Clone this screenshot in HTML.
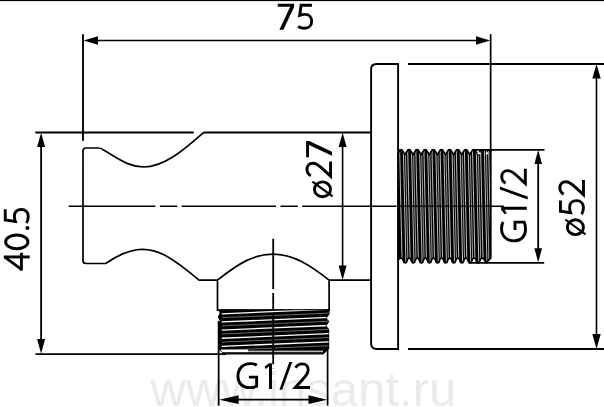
<!DOCTYPE html>
<html><head><meta charset="utf-8">
<style>
html,body{margin:0;padding:0;background:#fff;}
body{width:604px;height:407px;overflow:hidden;}
svg{display:block;}
text{font-family:"Liberation Sans",sans-serif;}
</style></head>
<body>
<svg width="604" height="407" viewBox="0 0 604 407">
<defs></defs>
<rect x="0" y="0" width="604" height="407" fill="#fff"/>

<!-- watermark -->
<text transform="translate(150.5,406) scale(1.024,1)" font-size="48" fill="#ebebeb">www.insant.ru</text>

<g stroke="#000" stroke-width="1.8" fill="none" stroke-linecap="butt">
  <rect x="0" y="0" width="604" height="1.1" fill="#000" stroke="none"/>
  <line x1="90" y1="40.5" x2="484" y2="40.5" stroke-width="1.6"/>
  <line x1="83" y1="34.2" x2="83" y2="140.7" stroke-width="1.9"/>
  <line x1="490.65" y1="34.1" x2="490.65" y2="152" stroke-width="1.7"/>
  <path d="M398.1,64 H376.6 Q371.1,64 371.1,69.5 V343.5 Q371.1,349 376.6,349 H398.1 Z" stroke-width="1.9"/>
  <line x1="408" y1="64" x2="604" y2="64" stroke-width="1.9"/>
  <line x1="408" y1="349" x2="604" y2="349" stroke-width="1.9"/>
  <line x1="596.5" y1="70" x2="596.5" y2="343" stroke-width="1.6"/>
  <line x1="35.3" y1="132.5" x2="193.8" y2="132.5" stroke-width="1.8"/>
  <line x1="203.6" y1="132.5" x2="371" y2="132.5" stroke-width="1.8"/>
  <path d="M203.6,132.5 C184,149.6 164.5,167 143.8,167 C130,167 121,160.5 104,150.3 Q101.5,148 98.5,148 H86 Q83,148 83,151 V260.5 Q83,263.5 86,263.5 H105.6 C118,255 130,249.3 142.5,249.3 C157,249.3 170,255.5 199.1,280.2 H217.5" stroke-width="1.7"/>
  <line x1="68.7" y1="206.3" x2="503.8" y2="206.3" stroke-width="1.6" stroke-dasharray="94.3 4.5 17.3 4.5" stroke-dashoffset="7.6"/>
  <line x1="342.6" y1="140" x2="342.6" y2="272" stroke-width="1.6"/>
  <line x1="41.1" y1="140" x2="41.1" y2="346" stroke-width="1.8"/>
  <line x1="35.4" y1="354.1" x2="226" y2="354.1" stroke-width="1.7"/>
  <path d="M217.5,310.2 V280.2 C240,262 255,254.2 273,254.2 C293,254.2 310,265 329.1,280.2 V310.2 Z" stroke-width="1.7"/>
  <line x1="329.1" y1="280.2" x2="371" y2="280.2" stroke-width="1.7"/>
  <line x1="218.65" y1="321" x2="218.65" y2="405.6" stroke-width="1.8"/>
  <line x1="327.6" y1="345" x2="327.6" y2="405.6" stroke-width="1.7"/>
  <line x1="225" y1="399.65" x2="322" y2="399.65" stroke-width="1.6"/>
  <line x1="473" y1="149.9" x2="544.5" y2="149.9" stroke-width="1.9"/>
  <line x1="469" y1="262.9" x2="544.2" y2="262.9" stroke-width="1.9"/>
  <line x1="538.2" y1="156" x2="538.2" y2="256" stroke-width="1.8"/>
</g>
<g fill="#000">
  <polygon points="83.5,40.5 98,36.2 98,44.7"/>
  <polygon points="490.2,40.5 476,36.2 476,44.7"/>
  <polygon points="596.5,64 592.3,78.6 600.7,78.6"/>
  <polygon points="596.5,349 592.3,334 600.7,334"/>
  <polygon points="342.6,132.8 338.6,147 346.6,147"/>
  <polygon points="342.6,280 338.6,265.4 346.6,265.4"/>
  <polygon points="41.1,132.8 37.1,147 45.1,147"/>
  <polygon points="41.1,353.8 37.1,339 45.1,339"/>
  <polygon points="538.2,150 534.4,164 542,164"/>
  <polygon points="538.2,262.5 534.4,248.2 542,248.2"/>
  <polygon points="219.2,399.65 238.6,395.3 238.6,403.9"/>
  <polygon points="327.1,399.65 308.5,395.3 308.5,403.9"/>
</g>
<clipPath id="rtc"><path d="M398.3,153.6 L399.6,150.05 Q400.9,149.35 402.2,150.05 L404.95,154.6 L407.7,150.05 Q409,149.35 410.3,150.05 L413.05,154.6 L415.8,150.05 Q417.1,149.35 418.4,150.05 L421.15,154.6 L423.9,150.05 Q425.2,149.35 426.5,150.05 L429.25,154.6 L432,150.05 Q433.3,149.35 434.6,150.05 L437.35,154.6 L440.1,150.05 Q441.4,149.35 442.7,150.05 L445.45,154.6 L448.2,150.05 Q449.5,149.35 450.8,150.05 L453.55,154.6 L456.3,150.05 Q457.6,149.35 458.9,150.05 L461.65,154.6 L464.4,150.05 Q465.7,149.35 467,150.05 L469.75,154.6 L472.5,150.05 Q473.8,149.35 475.1,150.05 L477.85,154.6 L480.6,150.05 L490.8,149.8 L490.8,257.9 L486.3,262.6 L483.4,258.7 Q482.1,257.6 480.8,258.7 L479.15,262.6 Q478.05,263.3 476.95,262.6 L475.3,258.7 Q474,257.6 472.7,258.7 L471.05,262.6 Q469.95,263.3 468.85,262.6 L467.2,258.7 Q465.9,257.6 464.6,258.7 L462.95,262.6 Q461.85,263.3 460.75,262.6 L459.1,258.7 Q457.8,257.6 456.5,258.7 L454.85,262.6 Q453.75,263.3 452.65,262.6 L451,258.7 Q449.7,257.6 448.4,258.7 L446.75,262.6 Q445.65,263.3 444.55,262.6 L442.9,258.7 Q441.6,257.6 440.3,258.7 L438.65,262.6 Q437.55,263.3 436.45,262.6 L434.8,258.7 Q433.5,257.6 432.2,258.7 L430.55,262.6 Q429.45,263.3 428.35,262.6 L426.7,258.7 Q425.4,257.6 424.1,258.7 L422.45,262.6 Q421.35,263.3 420.25,262.6 L418.6,258.7 Q417.3,257.6 416,258.7 L414.35,262.6 Q413.25,263.3 412.15,262.6 L410.5,258.7 Q409.2,257.6 407.9,258.7 L406.25,262.6 Q405.15,263.3 404.05,262.6 L402.4,258.7 Q401.1,257.6 399.8,258.7 L398.3,259.1 Z"/></clipPath>
<path d="M398.3,153.6 L399.6,150.05 Q400.9,149.35 402.2,150.05 L404.95,154.6 L407.7,150.05 Q409,149.35 410.3,150.05 L413.05,154.6 L415.8,150.05 Q417.1,149.35 418.4,150.05 L421.15,154.6 L423.9,150.05 Q425.2,149.35 426.5,150.05 L429.25,154.6 L432,150.05 Q433.3,149.35 434.6,150.05 L437.35,154.6 L440.1,150.05 Q441.4,149.35 442.7,150.05 L445.45,154.6 L448.2,150.05 Q449.5,149.35 450.8,150.05 L453.55,154.6 L456.3,150.05 Q457.6,149.35 458.9,150.05 L461.65,154.6 L464.4,150.05 Q465.7,149.35 467,150.05 L469.75,154.6 L472.5,150.05 Q473.8,149.35 475.1,150.05 L477.85,154.6 L480.6,150.05 L490.8,149.8 L490.8,257.9 L486.3,262.6 L483.4,258.7 Q482.1,257.6 480.8,258.7 L479.15,262.6 Q478.05,263.3 476.95,262.6 L475.3,258.7 Q474,257.6 472.7,258.7 L471.05,262.6 Q469.95,263.3 468.85,262.6 L467.2,258.7 Q465.9,257.6 464.6,258.7 L462.95,262.6 Q461.85,263.3 460.75,262.6 L459.1,258.7 Q457.8,257.6 456.5,258.7 L454.85,262.6 Q453.75,263.3 452.65,262.6 L451,258.7 Q449.7,257.6 448.4,258.7 L446.75,262.6 Q445.65,263.3 444.55,262.6 L442.9,258.7 Q441.6,257.6 440.3,258.7 L438.65,262.6 Q437.55,263.3 436.45,262.6 L434.8,258.7 Q433.5,257.6 432.2,258.7 L430.55,262.6 Q429.45,263.3 428.35,262.6 L426.7,258.7 Q425.4,257.6 424.1,258.7 L422.45,262.6 Q421.35,263.3 420.25,262.6 L418.6,258.7 Q417.3,257.6 416,258.7 L414.35,262.6 Q413.25,263.3 412.15,262.6 L410.5,258.7 Q409.2,257.6 407.9,258.7 L406.25,262.6 Q405.15,263.3 404.05,262.6 L402.4,258.7 Q401.1,257.6 399.8,258.7 L398.3,259.1 Z" fill="#000"/>
<g clip-path="url(#rtc)">
<line x1="399.6" y1="150" x2="402.1" y2="262" stroke="#ffffff" stroke-width="0.75"/>
<line x1="403.4" y1="150" x2="405.9" y2="262" stroke="#ffffff" stroke-width="0.75"/>
<line x1="405.4" y1="150" x2="407.9" y2="262" stroke="#e0e0e0" stroke-width="0.7"/>
<line x1="407.7" y1="150" x2="410.2" y2="262" stroke="#ffffff" stroke-width="0.75"/>
<line x1="411.5" y1="150" x2="414" y2="262" stroke="#ffffff" stroke-width="0.75"/>
<line x1="413.5" y1="150" x2="416" y2="262" stroke="#e0e0e0" stroke-width="0.7"/>
<line x1="415.8" y1="150" x2="418.3" y2="262" stroke="#ffffff" stroke-width="0.75"/>
<line x1="419.6" y1="150" x2="422.1" y2="262" stroke="#ffffff" stroke-width="0.75"/>
<line x1="421.6" y1="150" x2="424.1" y2="262" stroke="#e0e0e0" stroke-width="0.7"/>
<line x1="423.9" y1="150" x2="426.4" y2="262" stroke="#ffffff" stroke-width="0.75"/>
<line x1="427.7" y1="150" x2="430.2" y2="262" stroke="#ffffff" stroke-width="0.75"/>
<line x1="429.7" y1="150" x2="432.2" y2="262" stroke="#e0e0e0" stroke-width="0.7"/>
<line x1="432" y1="150" x2="434.5" y2="262" stroke="#ffffff" stroke-width="0.75"/>
<line x1="435.8" y1="150" x2="438.3" y2="262" stroke="#ffffff" stroke-width="0.75"/>
<line x1="437.8" y1="150" x2="440.3" y2="262" stroke="#e0e0e0" stroke-width="0.7"/>
<line x1="440.1" y1="150" x2="442.6" y2="262" stroke="#ffffff" stroke-width="0.75"/>
<line x1="443.9" y1="150" x2="446.4" y2="262" stroke="#ffffff" stroke-width="0.75"/>
<line x1="445.9" y1="150" x2="448.4" y2="262" stroke="#e0e0e0" stroke-width="0.7"/>
<line x1="448.2" y1="150" x2="450.7" y2="262" stroke="#ffffff" stroke-width="0.75"/>
<line x1="452" y1="150" x2="454.5" y2="262" stroke="#ffffff" stroke-width="0.75"/>
<line x1="454" y1="150" x2="456.5" y2="262" stroke="#e0e0e0" stroke-width="0.7"/>
<line x1="456.3" y1="150" x2="458.8" y2="262" stroke="#ffffff" stroke-width="0.75"/>
<line x1="460.1" y1="150" x2="462.6" y2="262" stroke="#ffffff" stroke-width="0.75"/>
<line x1="462.1" y1="150" x2="464.6" y2="262" stroke="#e0e0e0" stroke-width="0.7"/>
<line x1="464.4" y1="150" x2="466.9" y2="262" stroke="#ffffff" stroke-width="0.75"/>
<line x1="468.2" y1="150" x2="470.7" y2="262" stroke="#ffffff" stroke-width="0.75"/>
<line x1="470.2" y1="150" x2="472.7" y2="262" stroke="#e0e0e0" stroke-width="0.7"/>
<line x1="472.5" y1="150" x2="475" y2="262" stroke="#ffffff" stroke-width="0.75"/>
<line x1="476.3" y1="150" x2="478.8" y2="262" stroke="#ffffff" stroke-width="0.75"/>
<line x1="478.3" y1="150" x2="480.8" y2="262" stroke="#e0e0e0" stroke-width="0.7"/>
<line x1="480.6" y1="150" x2="483.1" y2="262" stroke="#ffffff" stroke-width="0.75"/>
<line x1="484.4" y1="150" x2="486.9" y2="262" stroke="#ffffff" stroke-width="0.75"/>
<line x1="486.4" y1="150" x2="488.9" y2="262" stroke="#e0e0e0" stroke-width="0.7"/>
<line x1="488.7" y1="150" x2="491.2" y2="262" stroke="#ffffff" stroke-width="0.75"/>
<line x1="492.5" y1="150" x2="495" y2="262" stroke="#ffffff" stroke-width="0.75"/>
<line x1="494.5" y1="150" x2="497" y2="262" stroke="#e0e0e0" stroke-width="0.7"/>
<line x1="496.8" y1="150" x2="499.3" y2="262" stroke="#ffffff" stroke-width="0.75"/>
<line x1="500.6" y1="150" x2="503.1" y2="262" stroke="#ffffff" stroke-width="0.75"/>
<line x1="502.6" y1="150" x2="505.1" y2="262" stroke="#e0e0e0" stroke-width="0.7"/>
</g>
<path d="M398.3,153.6 L399.6,150.05 Q400.9,149.35 402.2,150.05 L404.95,154.6 L407.7,150.05 Q409,149.35 410.3,150.05 L413.05,154.6 L415.8,150.05 Q417.1,149.35 418.4,150.05 L421.15,154.6 L423.9,150.05 Q425.2,149.35 426.5,150.05 L429.25,154.6 L432,150.05 Q433.3,149.35 434.6,150.05 L437.35,154.6 L440.1,150.05 Q441.4,149.35 442.7,150.05 L445.45,154.6 L448.2,150.05 Q449.5,149.35 450.8,150.05 L453.55,154.6 L456.3,150.05 Q457.6,149.35 458.9,150.05 L461.65,154.6 L464.4,150.05 Q465.7,149.35 467,150.05 L469.75,154.6 L472.5,150.05 Q473.8,149.35 475.1,150.05 L477.85,154.6 L480.6,150.05 L490.8,149.8 L490.8,257.9 L486.3,262.6 L483.4,258.7 Q482.1,257.6 480.8,258.7 L479.15,262.6 Q478.05,263.3 476.95,262.6 L475.3,258.7 Q474,257.6 472.7,258.7 L471.05,262.6 Q469.95,263.3 468.85,262.6 L467.2,258.7 Q465.9,257.6 464.6,258.7 L462.95,262.6 Q461.85,263.3 460.75,262.6 L459.1,258.7 Q457.8,257.6 456.5,258.7 L454.85,262.6 Q453.75,263.3 452.65,262.6 L451,258.7 Q449.7,257.6 448.4,258.7 L446.75,262.6 Q445.65,263.3 444.55,262.6 L442.9,258.7 Q441.6,257.6 440.3,258.7 L438.65,262.6 Q437.55,263.3 436.45,262.6 L434.8,258.7 Q433.5,257.6 432.2,258.7 L430.55,262.6 Q429.45,263.3 428.35,262.6 L426.7,258.7 Q425.4,257.6 424.1,258.7 L422.45,262.6 Q421.35,263.3 420.25,262.6 L418.6,258.7 Q417.3,257.6 416,258.7 L414.35,262.6 Q413.25,263.3 412.15,262.6 L410.5,258.7 Q409.2,257.6 407.9,258.7 L406.25,262.6 Q405.15,263.3 404.05,262.6 L402.4,258.7 Q401.1,257.6 399.8,258.7 L398.3,259.1 Z" fill="none" stroke="#000" stroke-width="1.7"/>
<polygon points="477,154.2 481,154.2 479,151.4" fill="#fff"/>
<polygon points="485,154.2 489,154.2 487,151.4" fill="#fff"/>
<line x1="398.3" y1="206.1" x2="490.8" y2="206.1" stroke="#000" stroke-width="1.4"/>
<clipPath id="btc"><path d="M219.3,310.2 H328.9 V314 L326,318 L328.6,321.5 L325.6,325.8 L328.6,329.5 V348.5 L323,353.8 H224 L219.3,349 V322.5 L220.4,320.2 L218.4,317 L220.2,313.6 Z"/></clipPath>
<path d="M219.3,310.2 H328.9 V314 L326,318 L328.6,321.5 L325.6,325.8 L328.6,329.5 V348.5 L323,353.8 H224 L219.3,349 V322.5 L220.4,320.2 L218.4,317 L220.2,313.6 Z" fill="#000" stroke="#000" stroke-width="1.2"/>
<g clip-path="url(#btc)">
<line x1="221.8" y1="313.8" x2="329" y2="309.2" stroke="#fff" stroke-width="1.3"/>
<line x1="221.8" y1="317.7" x2="329" y2="313.1" stroke="#808080" stroke-width="0.8"/>
<line x1="221.8" y1="321.95" x2="329" y2="317.35" stroke="#fff" stroke-width="1.3"/>
<line x1="221.8" y1="325.85" x2="329" y2="321.25" stroke="#808080" stroke-width="0.8"/>
<line x1="221.8" y1="330.1" x2="329" y2="325.5" stroke="#fff" stroke-width="1.3"/>
<line x1="221.8" y1="334" x2="329" y2="329.4" stroke="#808080" stroke-width="0.8"/>
<line x1="221.8" y1="338.25" x2="329" y2="333.65" stroke="#fff" stroke-width="1.3"/>
<line x1="221.8" y1="342.15" x2="329" y2="337.55" stroke="#808080" stroke-width="0.8"/>
<line x1="221.8" y1="346.4" x2="329" y2="341.8" stroke="#fff" stroke-width="1.3"/>
<line x1="221.8" y1="350.3" x2="329" y2="345.7" stroke="#808080" stroke-width="0.8"/>
<rect x="220.5" y="349.6" width="27.5" height="2.6" fill="#fff"/>
<rect x="248" y="350.6" width="75" height="1.6" fill="#bbb"/>
</g>
<line x1="273.2" y1="238.7" x2="273.2" y2="368.6" stroke="#000" stroke-width="1.8" stroke-dasharray="50.3 4 17 4"/>
<g fill="#000">
 <g transform="translate(277.8,29.7)"><g transform="translate(0,0)"><polygon points="0,-25.9 16.3,-25.9 16.3,-22.8 5.6,0 1.6,0 12.4,-23 0,-23"/></g><g transform="translate(19.4,0)"><path d="M14.7,-24.45 H3.9 L2.5,-14.4 C4.3,-15.1 6.1,-15.3 7.8,-15.3 C12.3,-15.3 14.45,-12.3 14.45,-8.5 C14.45,-4.2 11.6,-1.45 7.5,-1.45 C5,-1.45 2.7,-2.1 0.9,-3.2" fill="none" stroke="#000" stroke-width="2.9"/></g></g>
 <g transform="translate(332,198.2) rotate(-90)"><g transform="translate(0,0)"><ellipse cx="8.9" cy="-9.5" rx="7.4" ry="8.05" fill="none" stroke="#000" stroke-width="2.9"/><line x1="1.8" y1="0.6" x2="16.6" y2="-19.6" stroke="#000" stroke-width="2.1"/></g><g transform="translate(20.5,0)"><path d="M1.9,-21.2 C3.4,-23.8 5.6,-25.05 8.4,-25.05 C12.3,-25.05 14.45,-22.4 14.45,-19.2 C14.45,-15.8 12.5,-13.2 9.3,-9.9 L1.6,-1.45 H16.3" fill="none" stroke="#000" stroke-width="2.9"/></g><g transform="translate(40.9,0)"><polygon points="0,-25.9 16.3,-25.9 16.3,-22.8 5.6,0 1.6,0 12.4,-23 0,-23"/></g></g>
 <g transform="translate(584.9,236.1) rotate(-90)"><g transform="translate(0,0)"><ellipse cx="8.9" cy="-9.5" rx="7.4" ry="8.05" fill="none" stroke="#000" stroke-width="2.9"/><line x1="1.8" y1="0.6" x2="16.6" y2="-19.6" stroke="#000" stroke-width="2.1"/></g><g transform="translate(21,0)"><path d="M14.7,-24.45 H3.9 L2.5,-14.4 C4.3,-15.1 6.1,-15.3 7.8,-15.3 C12.3,-15.3 14.45,-12.3 14.45,-8.5 C14.45,-4.2 11.6,-1.45 7.5,-1.45 C5,-1.45 2.7,-2.1 0.9,-3.2" fill="none" stroke="#000" stroke-width="2.9"/></g><g transform="translate(39.9,0)"><path d="M1.9,-21.2 C3.4,-23.8 5.6,-25.05 8.4,-25.05 C12.3,-25.05 14.45,-22.4 14.45,-19.2 C14.45,-15.8 12.5,-13.2 9.3,-9.9 L1.6,-1.45 H16.3" fill="none" stroke="#000" stroke-width="2.9"/></g></g>
 <g transform="translate(29.7,270.6) rotate(-90)"><g transform="translate(0,0)"><line x1="13.65" y1="0" x2="13.65" y2="-25.9" stroke="#000" stroke-width="2.9"/><line x1="13.65" y1="-25.2" x2="0.9" y2="-8.0" stroke="#000" stroke-width="2.7"/><line x1="0" y1="-8.3" x2="17.8" y2="-8.3" stroke="#000" stroke-width="2.9"/></g><g transform="translate(20.4,0)"><ellipse cx="8.3" cy="-12.9" rx="6.85" ry="11.15" fill="none" stroke="#000" stroke-width="2.9"/></g><g transform="translate(42.5,0)"><circle cx="0" cy="-2.2" r="2"/></g><g transform="translate(46.7,0)"><path d="M14.7,-24.45 H3.9 L2.5,-14.4 C4.3,-15.1 6.1,-15.3 7.8,-15.3 C12.3,-15.3 14.45,-12.3 14.45,-8.5 C14.45,-4.2 11.6,-1.45 7.5,-1.45 C5,-1.45 2.7,-2.1 0.9,-3.2" fill="none" stroke="#000" stroke-width="2.9"/></g></g>
 <g transform="translate(526.8,242.3) rotate(-90)"><g transform="translate(0,0)"><path d="M20.3,-23.7 C18.6,-24.7 16.2,-25.25 13.6,-25.25 C6.4,-25.25 1.45,-20.1 1.45,-12.9 C1.45,-5.5 6.2,-1.25 13,-1.25 C16.4,-1.25 18.7,-1.9 20.15,-2.6 V-11.8 H12.4" fill="none" stroke="#000" stroke-width="2.9"/></g><g transform="translate(28,0)"><polygon points="4.5,-25.7 7.5,-25.7 7.5,0 4.5,0 4.5,-22.3 1.2,-19.9 0,-22.1"/></g><g transform="translate(42.9,0)"><polygon points="9.9,-26.9 12.9,-26.9 2.8,0.9 0,0.9"/></g><g transform="translate(57.2,0)"><path d="M1.9,-21.2 C3.4,-23.8 5.6,-25.05 8.4,-25.05 C12.3,-25.05 14.45,-22.4 14.45,-19.2 C14.45,-15.8 12.5,-13.2 9.3,-9.9 L1.6,-1.45 H16.3" fill="none" stroke="#000" stroke-width="2.9"/></g></g>
 <g transform="translate(236.5,388.9)"><g transform="translate(0,0)"><path d="M20.3,-23.7 C18.6,-24.7 16.2,-25.25 13.6,-25.25 C6.4,-25.25 1.45,-20.1 1.45,-12.9 C1.45,-5.5 6.2,-1.25 13,-1.25 C16.4,-1.25 18.7,-1.9 20.15,-2.6 V-11.8 H12.4" fill="none" stroke="#000" stroke-width="2.9"/></g><g transform="translate(28,0)"><polygon points="4.5,-25.7 7.5,-25.7 7.5,0 4.5,0 4.5,-22.3 1.2,-19.9 0,-22.1"/></g><g transform="translate(42.9,0)"><polygon points="9.9,-26.9 12.9,-26.9 2.8,0.9 0,0.9"/></g><g transform="translate(57.2,0)"><path d="M1.9,-21.2 C3.4,-23.8 5.6,-25.05 8.4,-25.05 C12.3,-25.05 14.45,-22.4 14.45,-19.2 C14.45,-15.8 12.5,-13.2 9.3,-9.9 L1.6,-1.45 H16.3" fill="none" stroke="#000" stroke-width="2.9"/></g></g>
</g>
</svg>
</body></html>
